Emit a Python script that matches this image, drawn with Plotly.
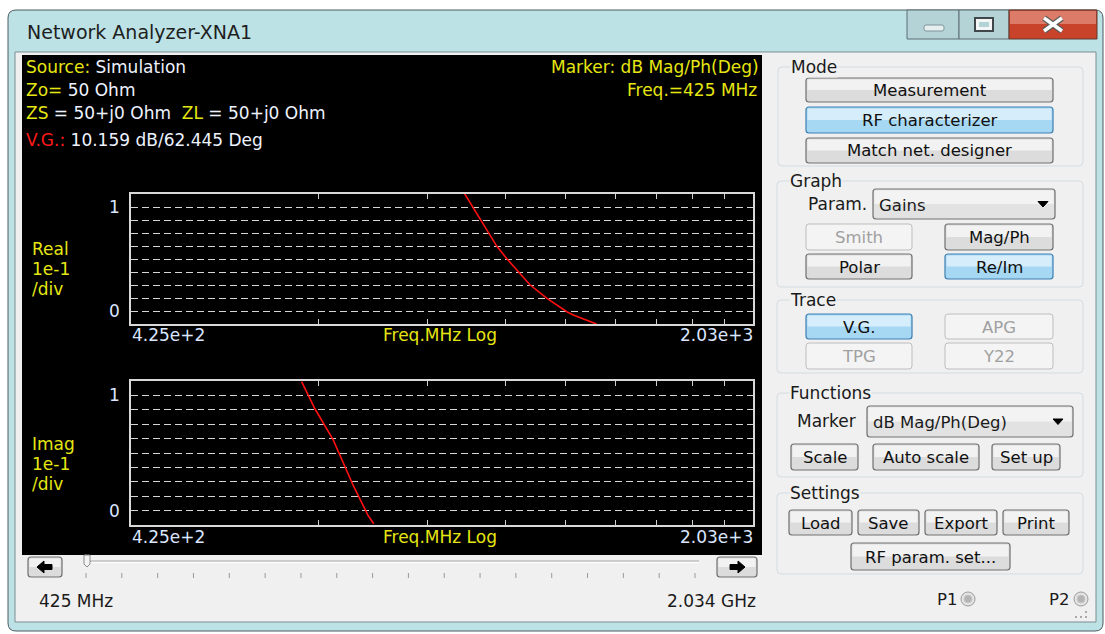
import math
import plotly.graph_objects as go

W, H = 1105, 634

# ---------------- data ----------------
f_start, f_stop = 425.0, 2034.0          # sweep limits, MHz

# voltage gain, real part
re_freq = [983, 1023, 1067, 1094, 1127, 1160, 1210, 1273, 1294, 1372]
re_val = [1.136, 0.883, 0.624, 0.505, 0.382, 0.252, 0.123, -0.007, -0.039, -0.126]

# voltage gain, imaginary part
im_freq = [653, 675, 707, 728, 744, 772, 783]
im_val = [1.12, 0.886, 0.614, 0.386, 0.214, -0.043, -0.114]

grid_vals = [0, 0.125, 0.25, 0.375, 0.5, 0.625, 0.75, 0.875, 1.0]
grid_text = ["0", "", "", "", "", "", "", "", "1"]
x_left_label, x_right_label = "4.25e+2", "2.03e+3"

# ---------------- helpers (pixel -> paper) ----------------
def X(px):
    return px / W


def Y(py):
    return 1 - py / H


shapes = []
annotations = []

YELLOW = "#e6e612"
WHITE = "#eef2ff"
CLIENT = "#f0f0f0"
UI_FONT = "DejaVu Sans"
PANEL_FONT = "DejaVu Sans"


def rect(x0, y0, x1, y1, fill=None, line=None, lw=1, layer="below"):
    shapes.append(dict(type="rect", xref="paper", yref="paper",
                       x0=X(x0), x1=X(x1), y0=Y(y1), y1=Y(y0),
                       fillcolor=fill if fill else "rgba(0,0,0,0)",
                       line=dict(color=line if line else "rgba(0,0,0,0)", width=lw if line else 0),
                       layer=layer))


def rrect(x0, y0, x1, y1, r, fill=None, line=None, lw=1, layer="below"):
    p = (f"M {X(x0 + r)},{Y(y0)} L {X(x1 - r)},{Y(y0)} Q {X(x1)},{Y(y0)} {X(x1)},{Y(y0 + r)} "
         f"L {X(x1)},{Y(y1 - r)} Q {X(x1)},{Y(y1)} {X(x1 - r)},{Y(y1)} "
         f"L {X(x0 + r)},{Y(y1)} Q {X(x0)},{Y(y1)} {X(x0)},{Y(y1 - r)} "
         f"L {X(x0)},{Y(y0 + r)} Q {X(x0)},{Y(y0)} {X(x0 + r)},{Y(y0)} Z")
    shapes.append(dict(type="path", xref="paper", yref="paper", path=p,
                       fillcolor=fill if fill else "rgba(0,0,0,0)",
                       line=dict(color=line if line else "rgba(0,0,0,0)", width=lw if line else 0),
                       layer=layer))


def poly(pts, fill, line=None, lw=1):
    p = "M " + " L ".join(f"{X(a)},{Y(b)}" for a, b in pts) + " Z"
    shapes.append(dict(type="path", xref="paper", yref="paper", path=p,
                       fillcolor=fill, line=dict(color=line if line else fill, width=lw),
                       layer="below"))


def seg(x0, y0, x1, y1, color, lw=1):
    shapes.append(dict(type="line", xref="paper", yref="paper",
                       x0=X(x0), y0=Y(y0), x1=X(x1), y1=Y(y1),
                       line=dict(color=color, width=lw), layer="below"))


def text(x, y, s, size=16, color="#1a1a1a", anchor="left", family=UI_FONT, bg=None):
    annotations.append(dict(x=X(x), y=Y(y), xref="paper", yref="paper", text=s,
                            showarrow=False, xanchor=anchor, yanchor="middle",
                            font=dict(size=size, color=color, family=family),
                            bgcolor=bg, borderpad=0))


def button(x0, y0, x1, y1, label, kind="normal", size=16.5):
    if kind == "blue":
        rrect(x0, y0, x1, y1, 3, fill="#a6d8f4", line="#3c7fb1", lw=1.2)
        rect(x0 + 1.5, y0 + 1.5, x1 - 1.5, (y0 + y1) / 2, fill="#d6eefb")
        col = "#101010"
    elif kind == "disabled":
        rrect(x0, y0, x1, y1, 3, fill="#f4f4f4", line="#bdbdbd", lw=1)
        col = "#a0a0a0"
    else:
        rrect(x0, y0, x1, y1, 3, fill="#dcdcdc", line="#707070", lw=1.2)
        rect(x0 + 1.5, y0 + 1.5, x1 - 1.5, (y0 + y1) / 2, fill="#f2f2f2")
        col = "#101010"
    text((x0 + x1) / 2, (y0 + y1) / 2 + 0.5, label, size=size, color=col, anchor="center")


def group(x0, y0, x1, y1, label):
    rrect(x0, y0, x1, y1, 4, line="#d3dce2", lw=1)
    text(x0 + 12, y0, label, size=17, color="#1a1a1a", bg=CLIENT)


def dropdown(x0, y0, x1, y1, label, ax):
    rrect(x0, y0, x1, y1, 3, fill="#e2e2e2", line="#707070", lw=1.2)
    rect(x0 + 1.5, y0 + 1.5, x1 - 1.5, (y0 + y1) / 2, fill="#f3f3f3")
    text(x0 + 5, (y0 + y1) / 2 + 1, label, size=16.5)
    ym = (y0 + y1) / 2
    poly([(ax - 5, ym - 2.5), (ax + 5, ym - 2.5), (ax, ym + 3)], "#000000")


# ---------------- window chrome ----------------
rrect(8, 10, 1103, 631, 8, fill="#bce2e5", line="#4d5b60", lw=1)
rect(15, 52, 1096, 622, fill=CLIENT, line="#7d8d92", lw=1)
text(26, 32, "Network Analyzer-XNA1", size=19, color="#1e1e1e")

# caption buttons
rect(907, 10, 959, 39, fill="#b3d3d7", line="#5e6f74", lw=1)
rect(959, 10, 1009, 39, fill="#b3d3d7", line="#5e6f74", lw=1)
rect(1009, 10, 1097, 39, fill="#c8432a", line="#5e3a30", lw=1)
rect(1010, 11, 1096, 24, fill="#dc7b68")
rrect(924, 25, 944, 31, 2, fill="#e6eef0", line="#7f9599", lw=1)
rect(975, 18, 993, 31, fill="#f4f6f6", line="#3f474c", lw=2)
rect(979, 22, 989, 27, fill="#b3d3d7")
seg(1044, 18, 1062, 31, "#5b5b5b", 6)
seg(1044, 31, 1062, 18, "#5b5b5b", 6)
seg(1044, 18, 1062, 31, "#ffffff", 3.5)
seg(1044, 31, 1062, 18, "#ffffff", 3.5)

# black display panel
rect(22, 55, 762, 555, fill="#000000")

# ---------------- display texts ----------------
def ylw(s):
    return f'<span style="color:{YELLOW}">{s}</span>'


PS = 17
text(25, 67, ylw("Source:") + " Simulation", PS, WHITE, family=PANEL_FONT)
text(25, 90, ylw("Zo=") + " 50 Ohm", PS, WHITE, family=PANEL_FONT)
text(25, 113, ylw("ZS") + " = 50+j0 Ohm&nbsp;&nbsp;" + ylw("ZL") + " = 50+j0 Ohm", PS, WHITE, family=PANEL_FONT)
text(25, 140, '<span style="color:#ff1a1a">V.G.:</span> 10.159 dB/62.445 Deg', PS, WHITE, family=PANEL_FONT)
text(760, 67, "Marker: dB Mag/Ph(Deg)", PS, YELLOW, anchor="right", family=PANEL_FONT)
text(758, 90, "Freq.=425 MHz", PS, YELLOW, anchor="right", family=PANEL_FONT)

for (yr, name) in [(249, "Real"), (444, "Imag")]:
    text(31, yr, name, PS, YELLOW, family=PANEL_FONT)
    text(31, yr + 20, "1e-1", PS, YELLOW, family=PANEL_FONT)
    text(31, yr + 40, "/div", PS, YELLOW, family=PANEL_FONT)

for ya in (335, 537):
    text(131, ya, x_left_label, PS, "#dbe6ff", family=PANEL_FONT)
    text(382, ya, "Freq.MHz Log", PS, YELLOW, family=PANEL_FONT)
    text(754, ya, x_right_label, PS, "#dbe6ff", anchor="right", family=PANEL_FONT)

# ---------------- scroll bar / status row ----------------
for bx0, bx1, direction in [(28, 62, -1), (717, 757, 1)]:
    rrect(bx0, 557, bx1, 577, 3, fill="#dcdcdc", line="#707070", lw=1.2)
    rect(bx0 + 1.5, 558.5, bx1 - 1.5, 567, fill="#f2f2f2")
    cx, cy = (bx0 + bx1) / 2, 567
    d = direction
    poly([(cx + d * 8, cy), (cx + d * 1, cy - 6), (cx + d * 1, cy - 2.5), (cx - d * 7, cy - 2.5),
          (cx - d * 7, cy + 2.5), (cx + d * 1, cy + 2.5), (cx + d * 1, cy + 6)], "#000000")

seg(87, 561, 699, 561, "#a9a9a9", 1)
seg(87, 562.5, 699, 562.5, "#ffffff", 1)
poly([(84, 555), (90, 555), (90, 564), (87, 567), (84, 564)], "#f4f4f4", "#8a8a8a", 1)
for i in range(18):
    xt = 86 + i * (695 - 86) / 17
    seg(xt, 573, xt, 578, "#9a9a9a", 1)

text(38, 601, "425 MHz", 17, "#1a1a1a")
text(757, 601, "2.034 GHz", 17, "#1a1a1a", anchor="right")

# ---------------- control panel ----------------
group(778, 67, 1083, 166, "Mode")
button(806, 78, 1053, 102, "Measurement")
button(806, 107, 1053, 133, "RF characterizer", "blue")
button(806, 138, 1053, 163, "Match net. designer")

group(777, 181, 1083, 287, "Graph")
text(807, 204, "Param.", 17)
dropdown(873, 189, 1055, 219, "Gains", 1043)
button(806, 224, 912, 250, "Smith", "disabled")
button(945, 224, 1053, 250, "Mag/Ph")
button(806, 254, 912, 279, "Polar")
button(945, 254, 1053, 279, "Re/Im", "blue")

group(777, 300, 1083, 373, "Trace")
button(806, 314, 912, 339, "V.G.", "blue")
button(945, 314, 1053, 339, "APG", "disabled")
button(806, 343, 912, 369, "TPG", "disabled")
button(945, 343, 1053, 369, "Y22", "disabled")

group(777, 393, 1083, 477, "Functions")
text(796, 421, "Marker", 17)
dropdown(867, 406, 1073, 437, "dB Mag/Ph(Deg)", 1058)
button(791, 444, 858, 470, "Scale")
button(873, 444, 979, 470, "Auto scale")
button(992, 444, 1060, 470, "Set up")

group(777, 493, 1083, 574, "Settings")
button(789, 510, 852, 535, "Load")
button(858, 510, 919, 535, "Save")
button(925, 510, 997, 535, "Export")
button(1003, 510, 1069, 535, "Print")
button(851, 543, 1010, 570, "RF param. set...")

for lbl, tx, cx in [("P1", 958, 968), ("P2", 1070, 1081)]:
    text(tx, 599, lbl, 16.5, "#1a1a1a", anchor="right")
    shapes.append(dict(type="circle", xref="paper", yref="paper",
                       x0=X(cx - 7), x1=X(cx + 7), y0=Y(599 + 7), y1=Y(599 - 7),
                       fillcolor="#e4e4e4", line=dict(color="#9a9a9a", width=1), layer="below"))
    shapes.append(dict(type="circle", xref="paper", yref="paper",
                       x0=X(cx - 4), x1=X(cx + 4), y0=Y(599 + 4), y1=Y(599 - 4),
                       fillcolor="#b4b4b4", line=dict(color="#c8c8c8", width=1), layer="below"))

for gx in (1076, 1081, 1086):
    rect(gx - 1, 616, gx + 1, 618, fill="#a8a8a8")
rect(1085, 611, 1087, 613, fill="#a8a8a8")

# ---------------- plots ----------------
fig = go.Figure()
fig.add_trace(go.Scatter(x=re_freq, y=re_val, mode="lines", xaxis="x", yaxis="y",
                         line=dict(color="#ff1010", width=1.6), hoverinfo="skip"))
fig.add_trace(go.Scatter(x=im_freq, y=im_val, mode="lines", xaxis="x2", yaxis="y2",
                         line=dict(color="#ff1010", width=1.6), hoverinfo="skip"))

# log-decade tick marks spread across the sweep span
tick_f = [f_start * (f_stop / f_start) ** math.log10(n) for n in range(2, 10)]

xaxis_common = dict(type="log", range=[math.log10(f_start), math.log10(f_stop)],
                    tickvals=tick_f, showticklabels=False, ticks="inside", ticklen=5,
                    tickcolor="#d0d0d0", tickwidth=1, showline=True, linecolor="#d8d8d8",
                    linewidth=1.5, mirror="ticks", showgrid=False, zeroline=False)
yaxis_common = dict(range=[-0.125, 1.125], tickvals=grid_vals, ticktext=grid_text,
                    showgrid=True, gridcolor="#d6d6d6", griddash="7px,4px", gridwidth=1.2,
                    showline=True, linecolor="#d8d8d8", linewidth=1.5, mirror=True,
                    zeroline=False, ticks="", ticklabelstandoff=6,
                    tickfont=dict(size=17, color="#dbe6ff", family=PANEL_FONT))

fig.update_layout(
    width=W, height=H, margin=dict(l=0, r=0, t=0, b=0),
    paper_bgcolor="#ffffff", plot_bgcolor="#000000", showlegend=False,
    xaxis=dict(domain=[X(131), X(753)], anchor="y", **xaxis_common),
    yaxis=dict(domain=[Y(324), Y(194)], anchor="x", **yaxis_common),
    xaxis2=dict(domain=[X(131), X(753)], anchor="y2", **xaxis_common),
    yaxis2=dict(domain=[Y(525), Y(381)], anchor="x2", **yaxis_common),
    shapes=shapes, annotations=annotations,
)

fig.write_html("out.html", config={"displayModeBar": False})
